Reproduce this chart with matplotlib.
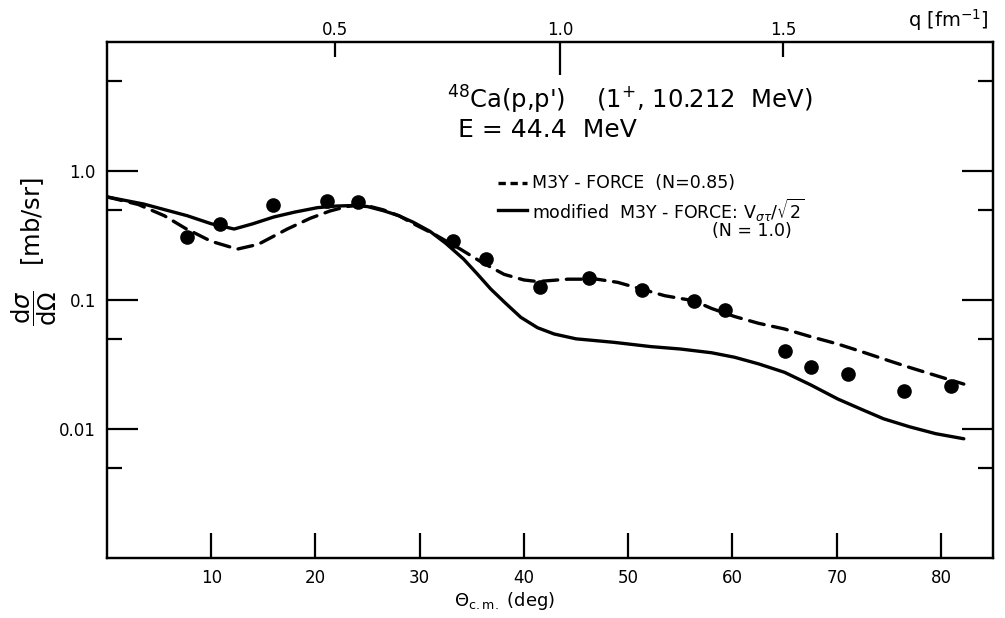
import numpy as np
import matplotlib
matplotlib.use("Agg")
import matplotlib.pyplot as plt
from matplotlib.lines import Line2D

# ---- data ----
exp_theta = [7.7, 10.8, 15.9, 21.1, 24.1, 33.2, 36.4, 41.5, 46.2, 51.3,
             56.3, 59.3, 65.0, 67.5, 71.1, 76.5, 81.0]
exp_xs = [0.306, 0.388, 0.545, 0.589, 0.572, 0.288, 0.208, 0.127, 0.148, 0.120,
          0.099, 0.0836, 0.0405, 0.030, 0.0267, 0.0198, 0.0214]

m3y_theta = [0.0, 3.0, 5.5, 7.5, 10.0, 12.5, 14.5, 17.3, 19.5, 21.4, 23.0, 24.5,
             26.5, 28.0, 29.4, 31.5, 33.9, 36.0, 38.1, 40.0, 41.3, 44.2, 47.0,
             49.0, 51.2, 53.5, 56.3, 58.0, 60.2, 62.5, 65.0, 67.5, 70.1, 72.3,
             74.5, 77.0, 79.5, 82.2]
m3y_xs = [0.63, 0.55, 0.45, 0.36, 0.285, 0.248, 0.27, 0.355, 0.43, 0.49, 0.53, 0.55,
          0.50, 0.45, 0.39, 0.32, 0.248, 0.195, 0.158, 0.143, 0.139, 0.145, 0.145,
          0.137, 0.122, 0.108, 0.0986, 0.086, 0.0745, 0.066, 0.0596, 0.052, 0.0456,
          0.040, 0.0349, 0.030, 0.026, 0.0223]

mod_theta = [0.0, 3.5, 7.7, 10.0, 12.2, 14.0, 16.0, 18.0, 20.2, 22.0, 23.7, 25.0,
             26.6, 28.0, 29.4, 31.0, 32.5, 34.2, 35.5, 36.8, 38.2, 39.7, 41.3, 42.9,
             45.0, 48.6, 52.2, 55.0, 58.0, 60.2, 62.5, 65.0, 67.5, 70.1, 72.3, 74.5,
             77.0, 79.5, 82.2]
mod_xs = [0.63, 0.555, 0.45, 0.39, 0.355, 0.39, 0.44, 0.48, 0.52, 0.535, 0.54, 0.53,
          0.49, 0.45, 0.40, 0.34, 0.275, 0.208, 0.16, 0.122, 0.095, 0.0734, 0.061,
          0.0545, 0.050, 0.047, 0.0435, 0.0417, 0.039, 0.036, 0.032, 0.0275, 0.022,
          0.0171, 0.0143, 0.012, 0.0104, 0.0092, 0.0084]

x_ticks = [10, 20, 30, 40, 50, 60, 70, 80]
y_major = [0.01, 0.1, 1.0]
y_major_labels = ["0.01", "0.1", "1.0"]
y_minor_left = [0.005, 0.05, 0.5, 5.0]
q_labels = ["0.5", "1.0", "1.5"]
q_theta = [21.9, 43.5, 64.9]   # scattering angle of each q value

# ---- figure ----
W, H = 1005, 618
fig = plt.figure(figsize=(W / 100, H / 100), dpi=100)
plt.rcParams['font.family'] = ['DejaVu Sans']

def fx(px):
    return px / W

def fy(py):
    return 1 - py / H

ax = fig.add_axes([fx(107), fy(558), fx(993) - fx(107), fy(42) - fy(558)])
ax.set_yscale('log')
ax.set_xlim(0, 85)
ax.set_ylim(0.001, 10)

lw = 2.4
ax.plot(mod_theta, mod_xs, color='black', lw=lw, solid_capstyle='round',
        solid_joinstyle='round')
ax.plot(m3y_theta, m3y_xs, color='black', lw=lw, dashes=(4.5, 2.6),
        dash_capstyle='round', dash_joinstyle='round')
ax.plot(exp_theta, exp_xs, 'o', color='black', ms=9.5)

for s in ax.spines.values():
    s.set_linewidth(1.6)

# bottom/left ticks
ax.set_xticks(x_ticks)
ax.set_xticklabels([str(t) for t in x_ticks])
ax.xaxis.set_minor_locator(matplotlib.ticker.NullLocator())
ax.tick_params(axis='x', which='major', direction='in', length=18, width=1.6,
               labelsize=12, pad=8, top=False)
ax.set_yticks(y_major)
ax.set_yticklabels(y_major_labels)
ax.set_yticks(y_minor_left, minor=True)
ax.yaxis.set_minor_formatter(matplotlib.ticker.NullFormatter())
ax.tick_params(axis='y', which='major', direction='in', length=22, width=1.6,
               labelsize=12, pad=8, right=True)
ax.tick_params(axis='y', which='minor', direction='in', length=11, width=1.6,
               right=True)

# top q axis
ax2 = ax.twiny()
ax2.set_xlim(ax.get_xlim())
ax2.set_xticks([q_theta[1]])
ax2.set_xticklabels([q_labels[1]])
ax2.set_xticks([q_theta[0], q_theta[2]], minor=True)
ax2.set_xticklabels([q_labels[0], q_labels[2]], minor=True)
ax2.tick_params(axis='x', which='major', direction='in', length=24, width=1.6,
                labelsize=12, pad=2)
ax2.tick_params(axis='x', which='minor', direction='in', length=11, width=1.6,
                labelsize=12, pad=2)
for s in ax2.spines.values():
    s.set_linewidth(1.6)

# axis labels
fig.text(fx(505), fy(601), r'$\Theta_{\rm c.m.}$ (deg)', ha='center', va='center',
         fontsize=13)
fig.text(fx(948), fy(20), r'q [fm$^{-1}$]', ha='center', va='center', fontsize=14)
fig.text(fx(34), fy(252), r'$\dfrac{\mathrm{d}\sigma}{\mathrm{d}\Omega}$   [mb/sr]',
         rotation=90, ha='center', va='center', fontsize=17.5)

# annotation text
fig.text(fx(447), fy(100), r"$^{48}$Ca(p,p')    (1$^{+}$, 10.212  MeV)",
         ha='left', va='center', fontsize=17.5)
fig.text(fx(458), fy(130), r"E = 44.4  MeV", ha='left', va='center', fontsize=18)

# legend
fig.add_artist(Line2D([fx(498), fx(527)], [fy(183), fy(183)], color='black', lw=lw,
                      dashes=(2.2, 1.4), transform=fig.transFigure))
fig.text(fx(532), fy(183), "M3Y - FORCE  (N=0.85)", ha='left', va='center',
         fontsize=12.5)
fig.add_artist(Line2D([fx(498), fx(527)], [fy(210), fy(210)], color='black', lw=lw,
                      transform=fig.transFigure))
fig.text(fx(532), fy(210), r"modified  M3Y - FORCE: V$_{\sigma\tau}$/$\sqrt{2}$",
         ha='left', va='center', fontsize=12.5)
fig.text(fx(712), fy(231), "(N = 1.0)", ha='left', va='center', fontsize=12.5)

fig.savefig("out.png", dpi=100)
